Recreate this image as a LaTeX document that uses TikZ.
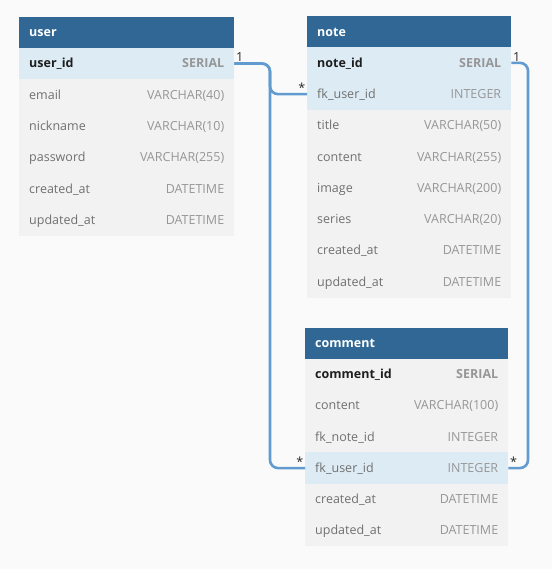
\documentclass[tikz,border=0pt]{standalone}
\usepackage{fontspec}
\setmainfont{Open Sans}

\definecolor{bggray}{RGB}{250,250,250}
\definecolor{headblue}{RGB}{48,103,148}
\definecolor{rowblue}{RGB}{221,235,244}
\definecolor{rowgray}{RGB}{242,242,242}
\definecolor{linkblue}{RGB}{98,155,208}
\definecolor{namegray}{RGB}{112,112,112}
\definecolor{typegray}{RGB}{150,150,150}
\definecolor{pkblack}{RGB}{30,30,30}
\definecolor{cardgray}{RGB}{40,40,40}

% type column, pushed to the right edge of the row
\newcommand{\coltype}[1]{\hfill\textcolor{typegray}{#1}}

\tikzset{
  tbl/.style={anchor=north west, minimum height=31.3pt, inner xsep=10pt, inner ysep=0pt,
    text height=11pt, text depth=2.4pt, font=\fontsize{12.5pt}{15pt}\selectfont},
  userw/.style={text width=195pt},
  notew/.style={text width=184pt},
  commentw/.style={text width=183pt},
  head/.style={tbl, fill=headblue, text=white, font=\fontsize{12.5pt}{15pt}\selectfont\bfseries},
  pk/.style={tbl, fill=rowblue, text=pkblack, font=\fontsize{12.5pt}{15pt}\selectfont\bfseries},
  pkplain/.style={pk, fill=rowgray},
  col/.style={tbl, fill=rowgray, text=namegray},
  fk/.style={tbl, fill=rowblue, text=namegray},
  link/.style={draw=linkblue, line width=2.6pt, rounded corners=8pt},
  card/.style={inner sep=1.5pt, text=cardgray, font=\fontsize{12.5pt}{14pt}\selectfont}
}

\begin{document}
\begin{tikzpicture}[x=1pt,y=-1pt]
\useasboundingbox[fill=bggray] (0,0) rectangle (552,569);

% table user
\node[head, userw] (user) at (19,16.5) {user};
\node[pk, userw] (user-id) at (19,47.7) {user\_id\coltype{SERIAL}};
\node[col, userw] (user-email) at (19,79.0) {email\coltype{VARCHAR(40)}};
\node[col, userw] (user-nick) at (19,110.3) {nickname\coltype{VARCHAR(10)}};
\node[col, userw] (user-pass) at (19,141.6) {password\coltype{VARCHAR(255)}};
\node[col, userw] (user-created) at (19,172.9) {created\_at\coltype{DATETIME}};
\node[col, userw] (user-updated) at (19,204.2) {updated\_at\coltype{DATETIME}};

% table note
\node[head, notew] (note) at (307,16) {note};
\node[pk, notew] (note-id) at (307,47.0) {note\_id\coltype{SERIAL}};
\node[fk, notew] (note-fkuser) at (307,78.3) {fk\_user\_id\coltype{INTEGER}};
\node[col, notew] (note-title) at (307,109.6) {title\coltype{VARCHAR(50)}};
\node[col, notew] (note-content) at (307,140.9) {content\coltype{VARCHAR(255)}};
\node[col, notew] (note-image) at (307,172.2) {image\coltype{VARCHAR(200)}};
\node[col, notew] (note-series) at (307,203.5) {series\coltype{VARCHAR(20)}};
\node[col, notew] (note-created) at (307,234.8) {created\_at\coltype{DATETIME}};
\node[col, notew] (note-updated) at (307,266.1) {updated\_at\coltype{DATETIME}};

% table comment
\node[head, commentw] (comment) at (305,327.3) {comment};
\node[pkplain, commentw] (comment-id) at (305,358.3) {comment\_id\coltype{SERIAL}};
\node[col, commentw] (comment-content) at (305,389.6) {content\coltype{VARCHAR(100)}};
\node[col, commentw] (comment-fknote) at (305,420.9) {fk\_note\_id\coltype{INTEGER}};
\node[fk, commentw] (comment-fkuser) at (305,452.2) {fk\_user\_id\coltype{INTEGER}};
\node[col, commentw] (comment-created) at (305,483.5) {created\_at\coltype{DATETIME}};
\node[col, commentw] (comment-updated) at (305,514.8) {updated\_at\coltype{DATETIME}};

% relations
\coordinate (lbus) at (270,0);
\coordinate (rbus) at (528,0);
\draw[link] (user-id.east) -| (lbus |- note-fkuser.west) -- (note-fkuser.west);
\draw[link] (user-id.east) -| (lbus |- comment-fkuser.west) -- (comment-fkuser.west);
\draw[link] (note-id.east) -| (rbus |- comment-fkuser.east) -- (comment-fkuser.east);

% cardinalities
\node[card, above right] (card-user) at (user-id.east) {1};
\node[card, above right] (card-note) at (note-id.east) {1};
\node[card, above left] (card-notefk) at (note-fkuser.west) {*};
\node[card, above left] (card-commentl) at (comment-fkuser.west) {*};
\node[card, above right] (card-commentr) at (comment-fkuser.east) {*};
\end{tikzpicture}
\end{document}
